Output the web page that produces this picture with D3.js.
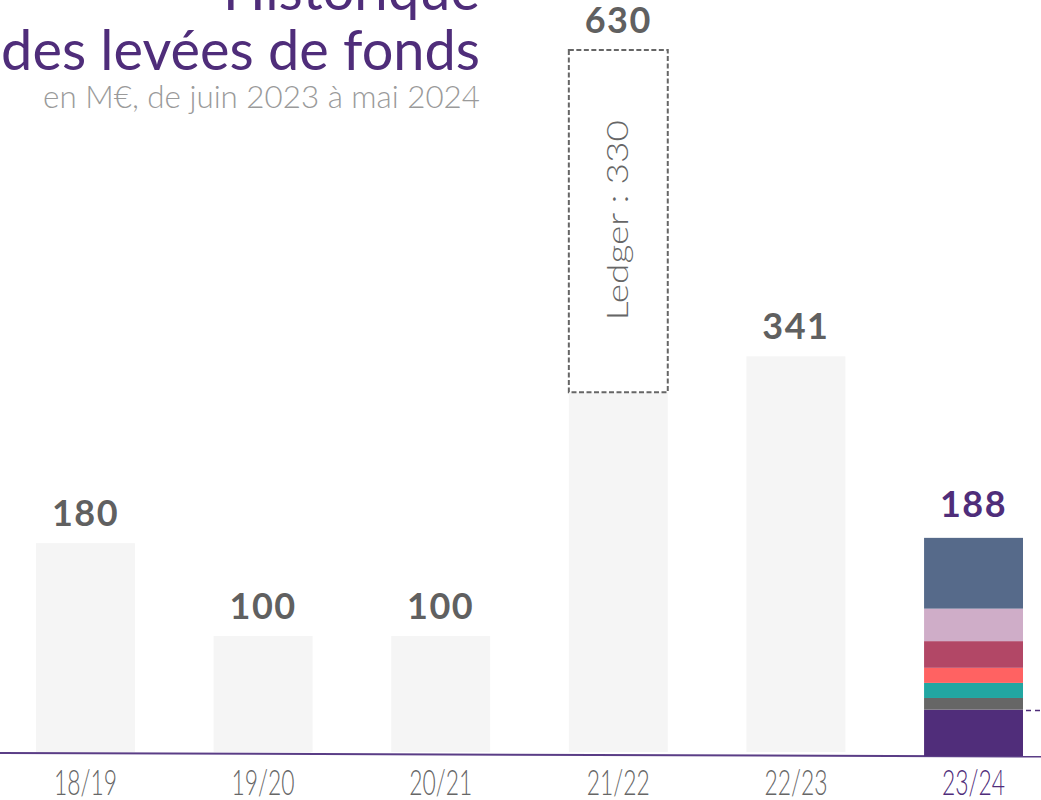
<!DOCTYPE html>
<html>
<head>
<meta charset="utf-8">
<script src="https://cdn.jsdelivr.net/npm/d3@7"></script>
<style>
  body { margin: 0; background: #fff; }
  svg { display: block; font-family: Lato, "Noto Sans", sans-serif; }
</style>
</head>
<body>
<div id="box-div"></div>
<script>
const seasons = ['18/19', '19/20', '20/21', '21/22', '22/23', '23/24']
const totals = [180, 100, 100, 630, 341, 188]
const greyValues = [180, 100, 100, 310, 341, null]
const ledgerValue = 330
const stackNames = ['a', 'b', 'c', 'd', 'e', 'f', 'g']
const stackValues = [40, 10, 13, 13, 23, 28, 61]
const stackColors = ['#502d7a', '#666666', '#22a6a2', '#ff6262', '#b24766', '#cfadc8', '#566a8a']

const dms = { width: 1041, height: 800 }
const purple = '#4f2d7a'
const grey = '#606060'

const svg = d3.select('#box-div').append('svg')
    .attr('width', dms.width)
    .attr('height', dms.height)

const x = d3.scaleBand()
    .domain(seasons)
    .range([0, 1059])
    .paddingInner(0.443)
    .paddingOuter(0.2027)

const y = d3.scaleLinear()
    .domain([0, 605])
    .range([752, 50])
    .clamp(true)

// titre
const title = svg.append('g').attr('text-anchor', 'end')
const t1 = title.append('text')
    .attr('x', 480).attr('y', 10)
    .attr('fill', purple)
    .style('font-size', '50px')
    .text('Historique')
const t2 = title.append('text')
    .attr('x', 480).attr('y', 70)
    .attr('fill', purple)
    .style('font-size', '50px')
    .text('des levées de fonds')
const t3 = title.append('text')
    .attr('x', 480).attr('y', 108)
    .attr('fill', '#9a9a9a')
    .style('font-size', '26px')
    .style('font-weight', 300)
    .text('en M€, de juin 2023 à mai 2024')

function fitWidth(sel, target, base) {
    const w = sel.node().getComputedTextLength()
    return base * target / w
}
const titleSize = fitWidth(t2, 479, 50)
t1.style('font-size', titleSize + 'px')
t2.style('font-size', titleSize + 'px')
t3.style('font-size', fitWidth(t3, 437, 26) + 'px')

// ligne de base
svg.append('line')
    .attr('x1', 0).attr('y1', y(0) + 1)
    .attr('x2', dms.width).attr('y2', y(0) + 4.5)
    .attr('stroke', '#5a3d86')
    .attr('stroke-width', 2)

// barres grises
svg.append('g').selectAll('rect')
    .data(seasons.filter((s, i) => greyValues[i] !== null))
    .join('rect')
    .attr('x', d => x(d))
    .attr('width', x.bandwidth())
    .attr('y', d => y(greyValues[seasons.indexOf(d)]))
    .attr('height', d => y(0) - y(greyValues[seasons.indexOf(d)]))
    .attr('fill', '#f5f5f5')

// Ledger
const lx = x('21/22')
const ledgerTop = y(greyValues[3] + ledgerValue)
const ledgerBottom = y(greyValues[3])
svg.append('rect')
    .attr('x', lx).attr('y', ledgerTop)
    .attr('width', x.bandwidth())
    .attr('height', ledgerBottom - ledgerTop)
    .attr('fill', 'none')
    .attr('stroke', '#666')
    .attr('stroke-width', 2)
    .attr('stroke-dasharray', '5,2.5')
svg.append('text')
    .attr('transform', `translate(${lx + x.bandwidth() / 2 + 10},${(ledgerTop + ledgerBottom) / 2 - 1}) rotate(-90)`)
    .attr('text-anchor', 'middle')
    .attr('fill', '#666')
    .style('font-size', '30px')
    .style('font-weight', 300)
    .attr('textLength', 200)
    .attr('lengthAdjust', 'spacingAndGlyphs')
    .text('Ledger : ' + ledgerValue)

// barre empilée 23/24
const stackData = d3.stack().keys(stackNames)([Object.fromEntries(stackNames.map((k, i) => [k, stackValues[i]]))])
const stackG = svg.append('g').attr('transform', 'translate(0,4)')
stackG.selectAll('rect')
    .data(stackData)
    .join('rect')
    .attr('x', x('23/24'))
    .attr('width', x.bandwidth())
    .attr('y', d => y(d[0][1]))
    .attr('height', d => y(d[0][0]) - y(d[0][1]))
    .attr('fill', (d, i) => stackColors[i])

// pointillé à droite
svg.append('line')
    .attr('x1', x('23/24') + x.bandwidth() + 3).attr('x2', dms.width)
    .attr('y1', y(stackValues[0]) + 5).attr('y2', y(stackValues[0]) + 5)
    .attr('stroke', purple)
    .attr('stroke-width', 1.5)
    .attr('stroke-dasharray', '5,4')

// valeurs
svg.append('g').selectAll('text')
    .data(seasons)
    .join('text')
    .attr('x', d => x(d) + x.bandwidth() / 2)
    .attr('y', (d, i) => y(totals[i]) - 17)
    .attr('text-anchor', 'middle')
    .attr('fill', (d, i) => i === 5 ? purple : grey)
    .style('font-size', '36px')
    .style('font-weight', 700)
    .style('letter-spacing', '1.5px')
    .text((d, i) => totals[i])

// axe
const xAxis = svg.append('g')
    .attr('transform', `translate(0,${y(0)})`)
    .call(d3.axisBottom(x).tickSize(0).tickPadding(0))
xAxis.select('.domain').remove()
xAxis.selectAll('text')
    .attr('y', 43)
    .attr('dy', 0)
    .attr('fill', d => d === '23/24' ? purple : '#666')
    .style('font-family', 'Lato, "Noto Sans", sans-serif')
    .style('font-size', '35px')
    .style('font-weight', 300)
    .attr('textLength', 63)
    .attr('lengthAdjust', 'spacingAndGlyphs')
</script>
</body>
</html>
